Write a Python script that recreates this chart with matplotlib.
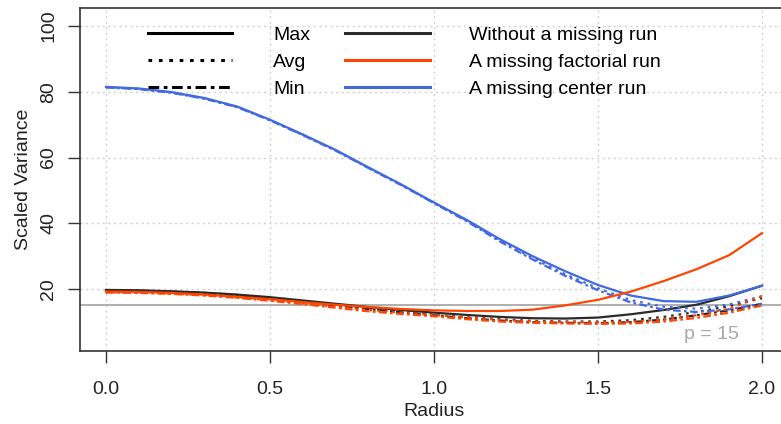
import matplotlib
matplotlib.use("Agg")
import matplotlib.pyplot as plt
from matplotlib.lines import Line2D
import numpy as np

plt.rcParams['font.family'] = ['Liberation Sans', 'DejaVu Sans']

radius = [0.0, 0.1, 0.2, 0.3, 0.4, 0.5, 0.6, 0.7, 0.8, 0.9, 1.0,
          1.1, 1.2, 1.3, 1.4, 1.5, 1.6, 1.7, 1.8, 1.9, 2.0]

# without a missing run
full_max = [19.7, 19.6, 19.3, 18.9, 18.3, 17.5, 16.5, 15.5, 14.5, 13.6, 12.8,
            12.1, 11.5, 11.1, 11.0, 11.3, 12.3, 13.6, 15.2, 17.8, 21.0]
full_avg = [19.6, 19.5, 19.2, 18.8, 18.2, 17.3, 16.3, 15.2, 14.1, 13.1, 12.2,
            11.4, 10.8, 10.3, 10.1, 10.1, 10.5, 11.5, 13.0, 14.8, 17.2]
full_min = [19.5, 19.4, 19.1, 18.7, 18.1, 17.2, 16.1, 15.0, 13.9, 12.9, 12.0,
            11.1, 10.4, 9.9, 9.7, 9.6, 9.9, 10.7, 12.0, 13.5, 15.5]

# a missing factorial run
fact_max = [19.2, 19.1, 18.8, 18.3, 17.6, 16.9, 16.0, 15.2, 14.5, 13.9, 13.5,
            13.3, 13.3, 13.7, 15.0, 16.7, 19.2, 22.4, 26.0, 30.3, 37.0]
fact_avg = [19.0, 18.9, 18.6, 18.1, 17.4, 16.6, 15.6, 14.6, 13.6, 12.8, 12.1,
            11.3, 10.6, 10.1, 9.9, 9.8, 10.0, 10.7, 12.0, 14.0, 17.8]
fact_min = [18.9, 18.8, 18.5, 18.0, 17.3, 16.4, 15.4, 14.3, 13.2, 12.4, 11.7,
            10.8, 10.1, 9.7, 9.5, 9.4, 9.5, 10.1, 11.2, 12.8, 15.0]

# a missing center run
cent_max = [81.5, 81.0, 79.9, 78.1, 75.5, 71.5, 67.0, 62.3, 57.0, 51.8, 46.3,
            41.0, 35.2, 30.0, 25.4, 21.2, 18.0, 16.3, 16.1, 18.0, 21.0]
cent_avg = [81.4, 80.9, 79.8, 78.0, 75.4, 71.4, 66.9, 62.2, 56.9, 51.7, 46.2,
            40.8, 34.8, 29.4, 24.5, 20.2, 16.6, 14.6, 14.0, 15.3, 17.8]
cent_min = [81.3, 80.8, 79.7, 77.9, 75.3, 71.3, 66.8, 62.1, 56.8, 51.6, 46.1,
            40.6, 34.5, 29.0, 24.0, 19.6, 15.9, 13.7, 13.0, 13.8, 15.5]

p = 15

stat_labels = ["Max", "Avg", "Min"]
case_labels = ["Without a missing run", "A missing factorial run",
               "A missing center run"]
case_colors = ["#2b2b2b", "#ff4500", "#4169e1"]

dotted = (0, (1.2, 2.2))
dashdot = (0, (3.5, 1.5, 1.2, 1.5))
styles = ["-", dotted, dashdot]

fig = plt.figure(figsize=(7.81, 4.24), dpi=100)
ax = fig.add_axes([0.1024, 0.1729, 0.9065, 0.8083])

ax.set_xlim(-0.0793, 2.079)
ax.set_ylim(1.22, 105.5)

ax.set_xticks([0.0, 0.5, 1.0, 1.5, 2.0])
ax.set_xticklabels(["0.0", "0.5", "1.0", "1.5", "2.0"])
ax.set_yticks([20, 40, 60, 80, 100])
ax.grid(True, color="#d0d0d0", linestyle=(0, (1.5, 2.5)), linewidth=1.0)
ax.set_axisbelow(True)

ax.axhline(p, color="#a8a8a8", linewidth=1.3, zorder=1)

groups = [(full_max, full_avg, full_min),
          (cent_max, cent_avg, cent_min),
          (fact_max, fact_avg, fact_min)]
group_colors = [case_colors[0], case_colors[2], case_colors[1]]
for series, col in zip(groups, group_colors):
    for vals, ls in zip(series, styles):
        ax.plot(radius, vals, color=col, linestyle=ls, linewidth=1.6, zorder=3)

ax.text(1.93, 6.0, "p = 15", color="#a8a8a8", fontsize=14,
        ha="right", va="center")

ax.spines["right"].set_visible(False)
for side in ["left", "bottom", "top"]:
    ax.spines[side].set_color("#333333")
    ax.spines[side].set_linewidth(1.2)

ax.tick_params(axis="both", length=8.5, width=1.0, color="#333333",
               labelsize=14, labelcolor="#222222")
ax.tick_params(axis="x", pad=13)
ax.tick_params(axis="y", pad=8)
for lab in ax.get_yticklabels():
    lab.set_rotation(90)
    lab.set_va("center")

ax.set_xlabel("Radius", fontsize=14, color="#222222", labelpad=4)
ax.set_ylabel("Scaled Variance", fontsize=14, color="#222222", labelpad=6)

# legend: line type key
stat_handles = [Line2D([], [], color="black", linestyle=ls, linewidth=2.2)
                for ls in styles]
leg1 = fig.legend(stat_handles, stat_labels, loc="upper left",
                  bbox_to_anchor=(148 / 781, 1 - 26 / 424), frameon=False,
                  fontsize=14, handlelength=4.33, handletextpad=2.1,
                  labelspacing=0.5, borderpad=0, borderaxespad=0)

# legend: colour key
case_handles = [Line2D([], [], color=c, linewidth=2.2) for c in case_colors]
leg2 = fig.legend(case_handles, case_labels, loc="upper left",
                  bbox_to_anchor=(345 / 781, 1 - 26 / 424), frameon=False,
                  fontsize=14, handlelength=4.38, handletextpad=2.0,
                  labelspacing=0.5, borderpad=0, borderaxespad=0)

fig.savefig("out.png", dpi=100)
